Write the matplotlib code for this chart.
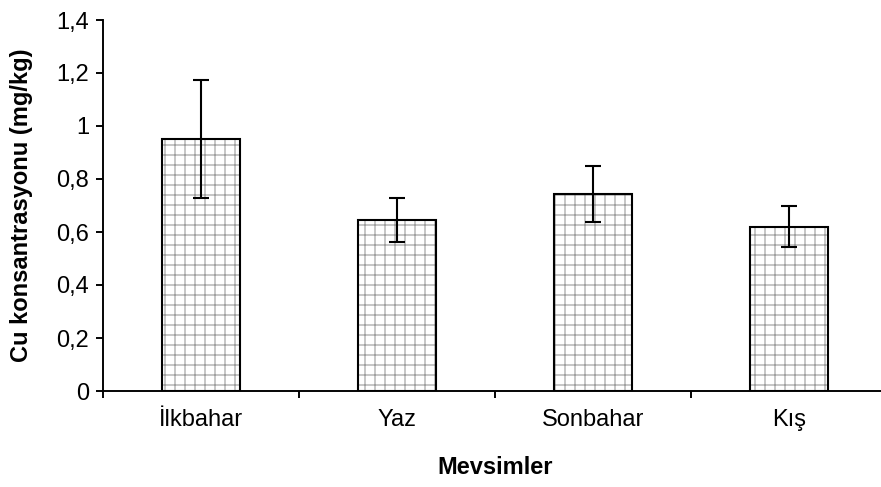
import matplotlib
matplotlib.use("Agg")
import matplotlib.pyplot as plt
import numpy as np

categories = ["İlkbahar", "Yaz", "Sonbahar", "Kış"]
values = [0.951, 0.645, 0.742, 0.62]
errors = [0.222, 0.083, 0.106, 0.078]
yticks = [0, 0.2, 0.4, 0.6, 0.8, 1.0, 1.2, 1.4]
ytick_labels = ["0", "0,2", "0,4", "0,6", "0,8", "1", "1,2", "1,4"]

plt.rcParams['font.family'] = ['Liberation Sans', 'DejaVu Sans']
plt.rcParams['hatch.linewidth'] = 0.7

DPI = 120
FS = 14.2
fig = plt.figure(figsize=(881 / DPI, 487 / DPI), dpi=DPI)
ax = fig.add_axes([103 / 881, 1 - 391 / 487, 784 / 881, 371 / 487])

x = np.arange(len(categories))
# hatch layer
ax.bar(x, values, width=0.4, color='white', edgecolor='#a0a0a0', linewidth=0,
       hatch='++', zorder=2)
# outline layer
ax.bar(x, values, width=0.4, fill=False, edgecolor='black', linewidth=1.25, zorder=3)
ax.errorbar(x, values, yerr=errors, fmt='none', ecolor='black', elinewidth=1.25,
            capsize=4.8, capthick=1.25, zorder=4)

ax.set_xlim(-0.5, len(categories) - 0.5)
ax.set_ylim(0, 1.4)
ax.set_yticks(yticks)
ax.set_yticklabels(ytick_labels, fontsize=FS)
ax.set_xticks(x)
ax.set_xticklabels(categories, fontsize=FS)
ax.set_xticks(np.arange(-0.5, len(categories) + 0.5, 1), minor=True)
ax.tick_params(axis='x', which='major', length=0, pad=10.8)
ax.tick_params(axis='x', which='minor', length=4.2, width=1.15, direction='out')
ax.tick_params(axis='y', which='major', length=4.2, width=1.15, direction='out', pad=4.2)

for s in ['top', 'right']:
    ax.spines[s].set_visible(False)
for s in ['left', 'bottom']:
    ax.spines[s].set_linewidth(1.15)

ax.set_xlabel("Mevsimler", fontsize=FS, fontweight='bold', labelpad=15)
ax.set_ylabel("Cu konsantrasyonu (mg/kg)", fontsize=FS, fontweight='bold', labelpad=13.6)

fig.savefig("out.png", dpi=DPI)
